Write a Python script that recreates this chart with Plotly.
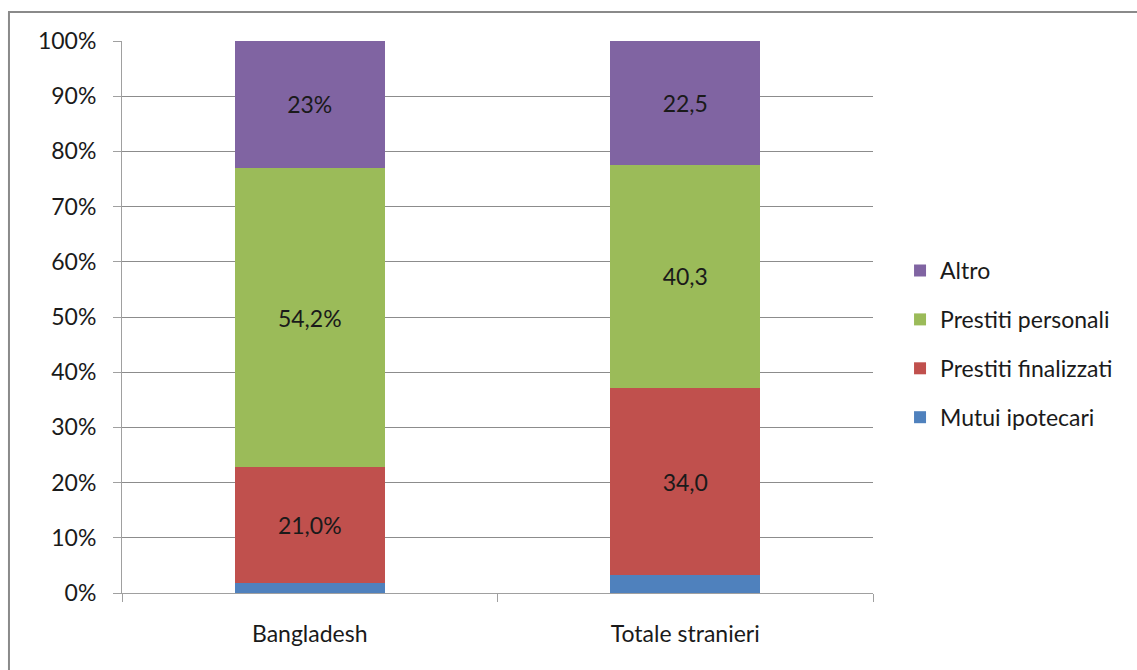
import plotly.graph_objects as go

categories = ["Bangladesh", "Totale stranieri"]
series_names = ["Mutui ipotecari", "Prestiti finalizzati", "Prestiti personali", "Altro"]
mutui_ipotecari = [1.8, 3.2]
prestiti_finalizzati = [21.0, 34.0]
prestiti_personali = [54.2, 40.3]
altro = [23.0, 22.5]
labels_mutui = ["", ""]
labels_finalizzati = ["21,0%", "34,0"]
labels_personali = ["54,2%", "40,3"]
labels_altro = ["23%", "22,5"]
y_ticks = [0, 10, 20, 30, 40, 50, 60, 70, 80, 90, 100]
y_tick_labels = [f"{v}%" for v in y_ticks]

colors = ["#4F81BD", "#C0504D", "#9BBB59", "#8064A2"]
values = [mutui_ipotecari, prestiti_finalizzati, prestiti_personali, altro]
labels = [labels_mutui, labels_finalizzati, labels_personali, labels_altro]

FONT = "Lato, 'Open Sans', sans-serif"
SIZE = 23

fig = go.Figure()
n = len(series_names)
for i, (name, vals, txt, col) in enumerate(zip(series_names, values, labels, colors)):
    fig.add_trace(go.Bar(
        x=categories, y=vals, name=name, legendgroup=name,
        legendrank=1000 + (n - i),  # top series listed first
        marker=dict(color=col, line=dict(width=0)),
        text=txt, textposition="inside", insidetextanchor="middle",
        textfont=dict(family=FONT, size=SIZE, color="#1a1a1a"),
        textangle=0, hoverinfo="skip",
    ))

fig.update_layout(
    barmode="stack", bargap=0.6,
    width=1137, height=670,
    margin=dict(l=122, r=264, t=41, b=77),
    paper_bgcolor="white", plot_bgcolor="white",
    font=dict(family=FONT, size=SIZE, color="#1a1a1a"),
    uniformtext=dict(mode="show", minsize=10),
    legend=dict(
        traceorder="grouped", x=1.036, y=0.451, xanchor="left", yanchor="middle",
        font=dict(family=FONT, size=SIZE, color="#1a1a1a"),
        itemwidth=30, tracegroupgap=16, bgcolor="rgba(0,0,0,0)",
    ),
    showlegend=True,
)
fig.update_xaxes(
    type="category", range=[-0.5, 1.5], tickson="boundaries",
    ticks="outside", ticklen=8, tickcolor="#a0a0a0",
    showline=True, linecolor="#a0a0a0", linewidth=1,
    showgrid=False, tickfont=dict(size=SIZE), ticklabelstandoff=20,
)
fig.update_yaxes(
    range=[0, 100], tickmode="array", tickvals=y_ticks, ticktext=y_tick_labels,
    ticks="outside", ticklen=8, tickcolor="#a0a0a0",
    showline=True, linecolor="#a0a0a0", linewidth=1,
    showgrid=True, gridcolor="#8c8c8c", gridwidth=1,
    tickfont=dict(size=SIZE), zeroline=False, ticklabelstandoff=12,
)

# outer chart frame (left and top edges)
fig.add_shape(type="line", xref="paper", yref="paper",
              x0=-0.1505, x1=-0.1505, y0=1.0525, y1=-0.2,
              line=dict(color="#8a8a8a", width=2))
fig.add_shape(type="line", xref="paper", yref="paper",
              x0=-0.1518, x1=1.4, y0=1.0525, y1=1.0525,
              line=dict(color="#8a8a8a", width=2))

fig.write_html("out.html")
